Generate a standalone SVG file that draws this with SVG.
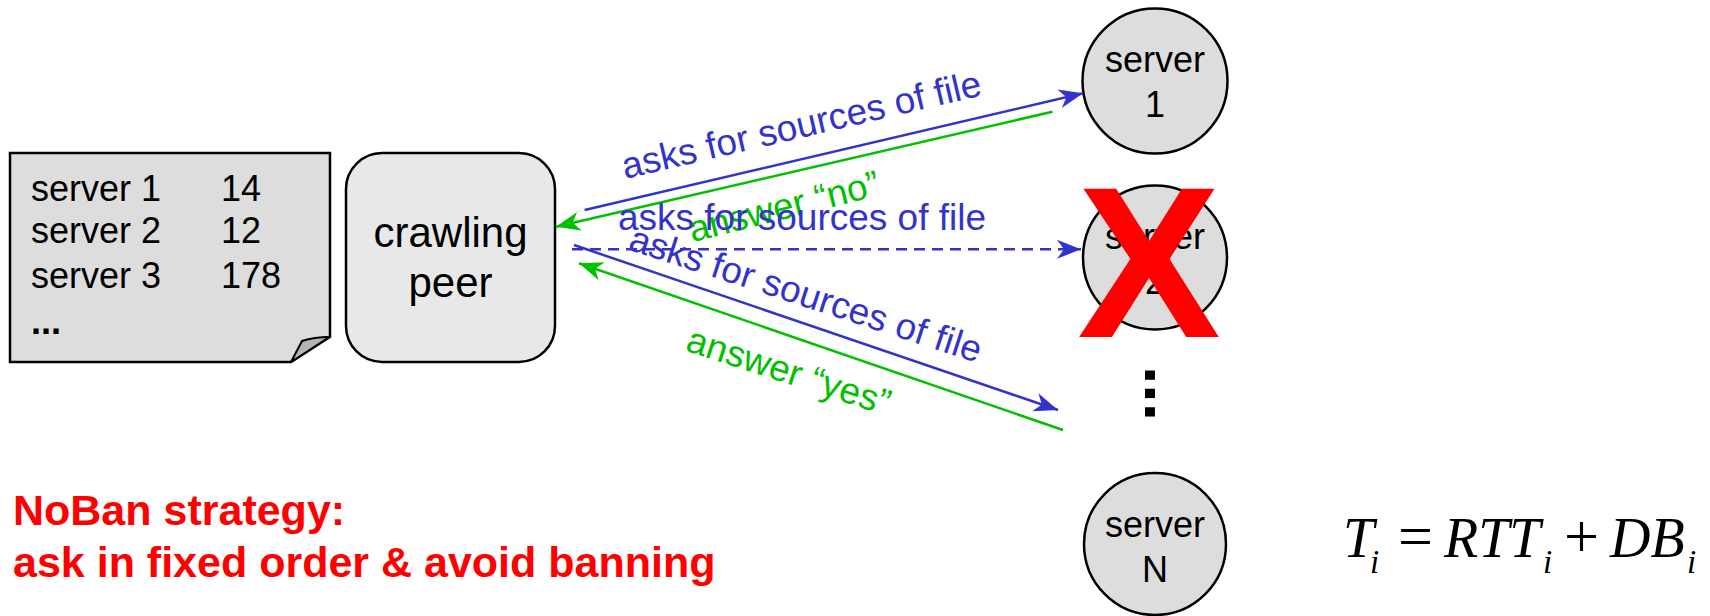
<svg xmlns="http://www.w3.org/2000/svg" width="1710" height="616" viewBox="0 0 1710 616">
  <defs>
    <style>
      .sans { font-family: "Liberation Sans", Arial, sans-serif; }
      .node-text { font-family: "Liberation Sans", Arial, sans-serif; font-size: 36px; fill: #000; }
      .ask { font-family: "Liberation Sans", Arial, sans-serif; font-size: 37px; fill: #3333CC; }
      .ans { font-family: "Liberation Sans", Arial, sans-serif; font-size: 37px; fill: #00C000; }
      .server { fill: #DDDDDD; stroke: #000; stroke-width: 2.5; }
      .req { stroke: #3333CC; stroke-width: 2.5; fill: none; }
      .rep { stroke: #00C000; stroke-width: 2.5; fill: none; }
      .math { font-family: "Liberation Serif", "Times New Roman", serif; font-style: italic; fill: #000; }
      .op { font-family: "Liberation Serif", "Times New Roman", serif; font-style: normal; fill: #000; }
    </style>
    <marker id="arrow-blue" viewBox="0 0 24 20" refX="24" refY="10" markerWidth="24" markerHeight="20" markerUnits="userSpaceOnUse" orient="auto">
      <path d="M0,0.5 L24,10 L0,19.5 L7,10 Z" fill="#3333CC"/>
    </marker>
    <marker id="arrow-green" viewBox="0 0 24 20" refX="24" refY="10" markerWidth="24" markerHeight="20" markerUnits="userSpaceOnUse" orient="auto">
      <path d="M0,0.5 L24,10 L0,19.5 L7,10 Z" fill="#00C000"/>
    </marker>
  </defs>

  <rect width="1710" height="616" fill="#FFFFFF"/>

  <!-- server table (note with folded corner) -->
  <g id="server-table">
    <path d="M10,153 H330 V336.7 L291,362 H10 Z" fill="#DDDDDD" stroke="#000" stroke-width="2.5"/>
    <path d="M291,362 L302,341 Q314,337 330,336.7 Z" fill="#B4B4B4" stroke="#000" stroke-width="2" stroke-linejoin="round"/>
    <text class="node-text" x="31" y="200.7">server 1</text>
    <text class="node-text" x="221" y="200.7">14</text>
    <text class="node-text" x="31" y="243.3">server 2</text>
    <text class="node-text" x="221" y="243.3">12</text>
    <text class="node-text" x="31" y="288.3">server 3</text>
    <text class="node-text" x="221" y="288.3">178</text>
    <text class="node-text" x="31" y="334" font-weight="bold" font-size="38">...</text>
  </g>

  <!-- crawling peer -->
  <g id="crawling-peer">
    <rect x="346" y="153" width="209" height="209" rx="36" ry="36" fill="#E8E8E8" stroke="#000" stroke-width="2.5"/>
    <text class="sans" font-size="42" x="450.5" y="246.7" text-anchor="middle">crawling</text>
    <text class="sans" font-size="42" x="450.5" y="296.7" text-anchor="middle">peer</text>
  </g>

  <!-- servers -->
  <g id="server-1">
    <circle class="server" cx="1155" cy="81" r="72.5"/>
    <text class="node-text" x="1155" y="72" text-anchor="middle">server</text>
    <text class="node-text" x="1155" y="117" text-anchor="middle">1</text>
  </g>
  <g id="server-2">
    <circle class="server" cx="1155" cy="257.5" r="72"/>
    <text class="node-text" x="1155" y="248.5" text-anchor="middle">server</text>
    <text class="node-text" x="1155" y="293.5" text-anchor="middle">2</text>
    <!-- banned marker -->
    <text x="1149" y="337" text-anchor="middle" font-family="Liberation Sans, Arial, sans-serif" font-weight="bold" font-size="215" fill="#FF0000">X</text>
  </g>
  <g id="server-ellipsis">
    <text transform="translate(1145,366) rotate(90)" x="0" y="0" font-family="Liberation Sans, Arial, sans-serif" font-weight="bold" font-size="66" fill="#000">...</text>
  </g>
  <g id="server-n">
    <circle class="server" cx="1155" cy="544" r="71"/>
    <text class="node-text" x="1155" y="536.7" text-anchor="middle">server</text>
    <text class="node-text" x="1155" y="581.7" text-anchor="middle">N</text>
  </g>

  <!-- connectors -->
  <g id="connectors">
    <path class="req" d="M584.6,210 L1083,93.3" marker-end="url(#arrow-blue)"/>
    <path class="rep" d="M1052.5,111.7 L556,226.7" marker-end="url(#arrow-green)"/>
    <path class="req" d="M572,249.3 L1081,249.3" stroke-dasharray="11 7" marker-end="url(#arrow-blue)"/>
    <path class="req" d="M574,245 L1058,410" marker-end="url(#arrow-blue)"/>
    <path class="rep" d="M1063,430 L579,263.3" marker-end="url(#arrow-green)"/>
  </g>

  <!-- connector labels -->
  <g id="labels">
    <text class="ask" transform="translate(809,157.5) rotate(-13.18)" x="0" y="-21" text-anchor="middle">asks for sources of file</text>
    <text class="ans" transform="translate(787,218.5) rotate(-14)" x="0" y="0" text-anchor="middle">answer “no”</text>
    <text class="ask" x="802" y="230" text-anchor="middle">asks for sources of file</text>
    <text class="ask" transform="translate(802,306) rotate(18)" x="0" y="0" text-anchor="middle">asks for sources of file</text>
    <text class="ans" transform="translate(785,383) rotate(18)" x="0" y="0" text-anchor="middle">answer “yes”</text>
  </g>

  <!-- strategy note -->
  <g id="strategy">
    <text class="sans" font-weight="bold" font-size="43" fill="#FF0000" x="13" y="525">NoBan strategy:</text>
    <text class="sans" font-weight="bold" font-size="43" fill="#FF0000" x="13" y="577">ask in fixed order &amp; avoid banning</text>
  </g>

  <!-- response time formula -->
  <g id="formula">
    <text class="math" font-size="56" x="1343" y="557">T</text>
    <text class="math" font-size="33" x="1370" y="573">i</text>
    <text class="op" font-size="62" x="1398" y="557">=</text>
    <text class="math" font-size="56" x="1444" y="557">RTT</text>
    <text class="math" font-size="33" x="1543" y="573">i</text>
    <text class="op" font-size="62" x="1564" y="557">+</text>
    <text class="math" font-size="56" x="1610" y="557">DB</text>
    <text class="math" font-size="33" x="1687" y="573">i</text>
  </g>
</svg>
